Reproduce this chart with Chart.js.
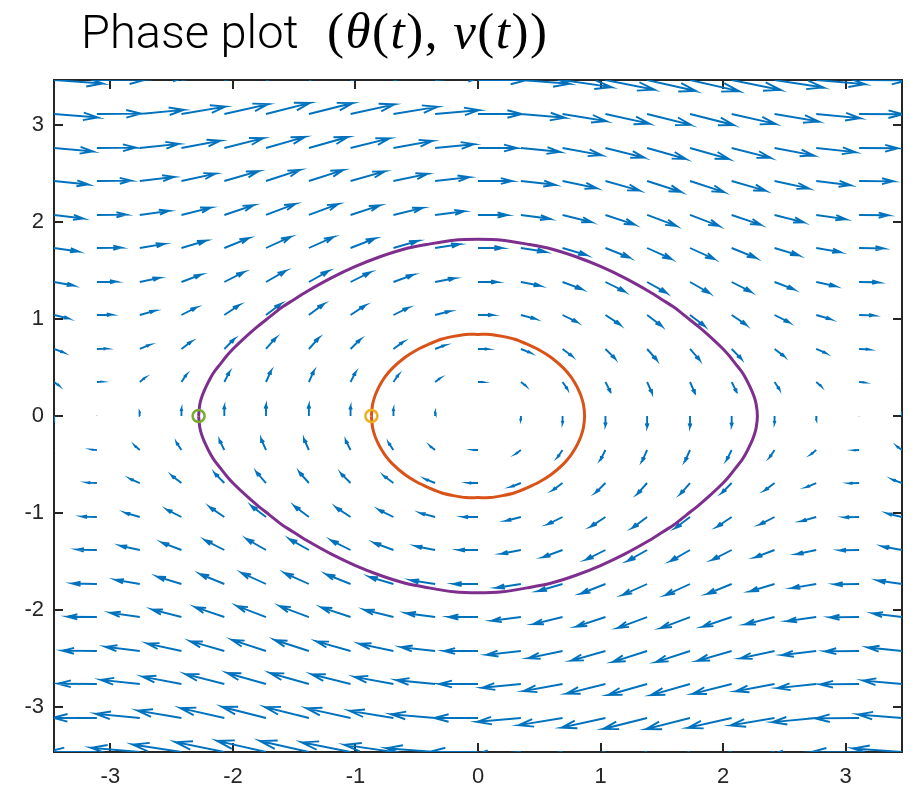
<!DOCTYPE html>
<html>
<head>
<meta charset="utf-8">
<script src="https://cdn.jsdelivr.net/npm/chart.js@4.4.1/dist/chart.umd.min.js"></script>
<style>
html, body { margin: 0; padding: 0; background: #fff; }
#wrap { position: relative; width: 914px; height: 788px; }
#title { position: absolute; left: 81px; top: 0px; height: 64px; line-height: 64px; white-space: nowrap; color: #000; }
#title .txt { font-family: "Roboto", "Liberation Sans", Arial, sans-serif; font-weight: 300; font-size: 47px; }
#title .math { position: absolute; left: 246px; top: -1px; font-family: "Liberation Serif", "DejaVu Serif", serif; font-size: 51px; letter-spacing: 1.5px; }
</style>
</head>
<body>
<div id="wrap">
	<canvas id="phase" width="914" height="788"></canvas>
	<div id="title"><span class="txt">Phase plot</span><span class="math">(<i>θ</i>(<i>t</i>), <i>v</i>(<i>t</i>))</span></div>
</div>
<script>
"use strict";

// Quiver grid (θ across, v up)
var thetaGrid = [ -3.46, -3.11, -2.76, -2.42, -2.07, -1.73, -1.38, -1.04, -0.69, -0.35, 0,
	0.35, 0.69, 1.04, 1.38, 1.73, 2.07, 2.42, 2.76, 3.11, 3.46 ];
var vGrid = [ -3.46, -3.11, -2.76, -2.42, -2.07, -1.73, -1.38, -1.04, -0.69, -0.35, 0,
	0.35, 0.69, 1.04, 1.38, 1.73, 2.07, 2.42, 2.76, 3.11, 3.46 ];

// Arrow components: horizontal one per row, vertical one per column
var rowDx = [ -3.46, -3.11, -2.76, -2.42, -2.07, -1.73, -1.38, -1.04, -0.69, -0.35, 0,
	0.35, 0.69, 1.04, 1.38, 1.73, 2.07, 2.42, 2.76, 3.11, 3.46 ];
var colDy = [ -0.31, 0.03, 0.37, 0.66, 0.88, 0.99, 0.98, 0.86, 0.64, 0.34, 0,
	-0.34, -0.64, -0.86, -0.98, -0.99, -0.88, -0.66, -0.37, -0.03, 0.31 ];

// Outer orbit (purple), starts at θ = -2.28, goes over the top and back under
var purpleTheta = [ -2.28, -2.27, -2.25, -2.22, -2.18, -2.15, -2.1, -2.05, -2.0, -1.9, -1.8, -1.7, -1.6, -1.5, -1.4,
	-1.2, -1.0, -0.8, -0.6, -0.4, -0.2, 0,
	0.2, 0.4, 0.6, 0.8, 1.0, 1.2, 1.4, 1.5, 1.6, 1.7, 1.8, 1.9, 2.0, 2.05, 2.1, 2.15, 2.18, 2.22, 2.25, 2.27, 2.28,
	2.27, 2.25, 2.22, 2.18, 2.15, 2.1, 2.05, 2.0, 1.9, 1.8, 1.7, 1.6, 1.5, 1.4, 1.2, 1.0, 0.8, 0.6, 0.4, 0.2, 0,
	-0.2, -0.4, -0.6, -0.8, -1.0, -1.2, -1.4, -1.5, -1.6, -1.7, -1.8, -1.9, -2.0, -2.05, -2.1, -2.15, -2.18, -2.22,
	-2.25, -2.27, -2.28 ];
var purpleV = [ 0, 0.12, 0.21, 0.30, 0.40, 0.46, 0.54, 0.62, 0.69, 0.81, 0.92, 1.02, 1.12, 1.20, 1.28,
	1.42, 1.54, 1.64, 1.72, 1.77, 1.81, 1.82,
	1.81, 1.77, 1.72, 1.64, 1.54, 1.42, 1.28, 1.20, 1.12, 1.02, 0.92, 0.81, 0.69, 0.62, 0.54, 0.46, 0.40, 0.30, 0.21, 0.12, 0,
	-0.12, -0.21, -0.30, -0.40, -0.46, -0.54, -0.62, -0.69, -0.81, -0.92, -1.02, -1.12, -1.20, -1.28, -1.42, -1.54, -1.64, -1.72, -1.77, -1.81, -1.82,
	-1.81, -1.77, -1.72, -1.64, -1.54, -1.42, -1.28, -1.20, -1.12, -1.02, -0.92, -0.81, -0.69, -0.62, -0.54, -0.46, -0.40, -0.30,
	-0.21, -0.12, 0 ];

// Inner orbit (orange), starts at θ = -0.87
var orangeTheta = [ -0.87, -0.86, -0.84, -0.82, -0.8, -0.76, -0.7, -0.6, -0.5, -0.4, -0.3, -0.2, -0.1, 0,
	0.1, 0.2, 0.3, 0.4, 0.5, 0.6, 0.7, 0.76, 0.8, 0.82, 0.84, 0.86, 0.87,
	0.86, 0.84, 0.82, 0.8, 0.76, 0.7, 0.6, 0.5, 0.4, 0.3, 0.2, 0.1, 0,
	-0.1, -0.2, -0.3, -0.4, -0.5, -0.6, -0.7, -0.76, -0.8, -0.82, -0.84, -0.86, -0.87 ];
var orangeV = [ 0, 0.12, 0.21, 0.27, 0.32, 0.40, 0.49, 0.60, 0.68, 0.74, 0.79, 0.82, 0.84, 0.84,
	0.84, 0.82, 0.79, 0.74, 0.68, 0.60, 0.49, 0.40, 0.32, 0.27, 0.21, 0.12, 0,
	-0.12, -0.21, -0.27, -0.32, -0.40, -0.49, -0.60, -0.68, -0.74, -0.79, -0.82, -0.84, -0.84,
	-0.84, -0.82, -0.79, -0.74, -0.68, -0.60, -0.49, -0.40, -0.32, -0.27, -0.21, -0.12, 0 ];

// Start markers
var startPoints = [ { x: -2.28, y: 0 }, { x: -0.87, y: 0 } ];

var xTicks = [ -3, -2, -1, 0, 1, 2, 3 ];
var yTicks = [ -3, -2, -1, 0, 1, 2, 3 ];

var quiverScale = 0.115,
	headLen = 0.33,
	headWidth = 0.33,
	axisColor = "#262626",
	tickFont = { family: "'Liberation Sans', Arial, Helvetica, sans-serif", size: 22 };

function zipPoints( xs, ys ) {
	return xs.map( function( x, i ) {
		return { x: x, y: ys[ i ] };
	} );
}

// Every arrow: shaft, one barb, back to tip, other barb, then a gap
function buildArrows() {
	var pts = [];
	vGrid.forEach( function( v, j ) {
		thetaGrid.forEach( function( th, i ) {
			var u = rowDx[ j ] * quiverScale,
				w = colDy[ i ] * quiverScale,
				tx, ty;
			if ( u === 0 && w === 0 ) {
				return;
			}
			tx = th + u;
			ty = v + w;
			pts.push(
				{ x: th, y: v },
				{ x: tx, y: ty },
				{ x: tx - headLen * ( u + headWidth * w ), y: ty - headLen * ( w - headWidth * u ) },
				{ x: tx, y: ty },
				{ x: tx - headLen * ( u - headWidth * w ), y: ty - headLen * ( w + headWidth * u ) },
				{ x: tx, y: null }
			);
		} );
	} );
	return pts;
}

// Box around the axes with inward tick marks, MATLAB style
var boxPlugin = {
	id: "matlabBox",
	beforeDatasetsDraw: function( chart ) {
		var a = chart.chartArea,
			ctx = chart.ctx,
			xs = chart.scales.x,
			ys = chart.scales.y,
			tl = 9;
		ctx.save();
		ctx.strokeStyle = axisColor;
		ctx.lineWidth = 2;
		ctx.strokeRect( a.left, a.top, a.right - a.left, a.bottom - a.top );
		ctx.beginPath();
		xTicks.forEach( function( t ) {
			var px = Math.round( xs.getPixelForValue( t ) );
			ctx.moveTo( px, a.bottom );
			ctx.lineTo( px, a.bottom - tl );
			ctx.moveTo( px, a.top );
			ctx.lineTo( px, a.top + tl );
		} );
		yTicks.forEach( function( t ) {
			var py = Math.round( ys.getPixelForValue( t ) );
			ctx.moveTo( a.left, py );
			ctx.lineTo( a.left + tl, py );
			ctx.moveTo( a.right, py );
			ctx.lineTo( a.right - tl, py );
		} );
		ctx.stroke();
		ctx.restore();
	}
};

new Chart( document.getElementById( "phase" ), {
	type: "scatter",
	data: {
		datasets: [
			{
				label: "start",
				data: startPoints,
				order: 0,
				showLine: false,
				pointRadius: 6,
				pointHoverRadius: 6,
				pointBorderWidth: 2.5,
				pointBackgroundColor: "rgba(0,0,0,0)",
				pointBorderColor: [ "#77AC30", "#EDB120" ]
			},
			{
				label: "inner",
				data: zipPoints( orangeTheta, orangeV ),
				order: 1,
				showLine: true,
				tension: 0.3,
				pointRadius: 0,
				borderColor: "#D95319",
				borderWidth: 3
			},
			{
				label: "outer",
				data: zipPoints( purpleTheta, purpleV ),
				order: 2,
				showLine: true,
				tension: 0.3,
				pointRadius: 0,
				borderColor: "#7E2F8E",
				borderWidth: 3
			},
			{
				label: "field",
				data: buildArrows(),
				order: 3,
				showLine: true,
				spanGaps: false,
				tension: 0,
				pointRadius: 0,
				borderColor: "#0072BD",
				borderWidth: 1.9,
				clip: 0
			}
		]
	},
	options: {
		responsive: false,
		devicePixelRatio: 1,
		animation: false,
		events: [],
		layout: { padding: { top: 80, right: 12, left: 0, bottom: 0 } },
		plugins: {
			legend: { display: false },
			tooltip: { enabled: false },
			title: { display: false }
		},
		scales: {
			x: {
				type: "linear",
				min: -3.46,
				max: 3.46,
				grid: { display: false, drawTicks: false },
				border: { display: false },
				ticks: {
					color: axisColor,
					font: tickFont,
					padding: 12,
					maxRotation: 0,
					callback: function( v ) { return String( v ); }
				},
				afterBuildTicks: function( s ) {
					s.ticks = xTicks.map( function( v ) { return { value: v }; } );
				},
				afterFit: function( s ) { s.height = 36; }
			},
			y: {
				type: "linear",
				min: -3.46,
				max: 3.46,
				grid: { display: false, drawTicks: false },
				border: { display: false },
				ticks: {
					color: axisColor,
					font: tickFont,
					padding: 10,
					callback: function( v ) { return String( v ); }
				},
				afterBuildTicks: function( s ) {
					s.ticks = yTicks.map( function( v ) { return { value: v }; } );
				},
				afterFit: function( s ) { s.width = 54; }
			}
		}
	},
	plugins: [ boxPlugin ]
} );
</script>
</body>
</html>
